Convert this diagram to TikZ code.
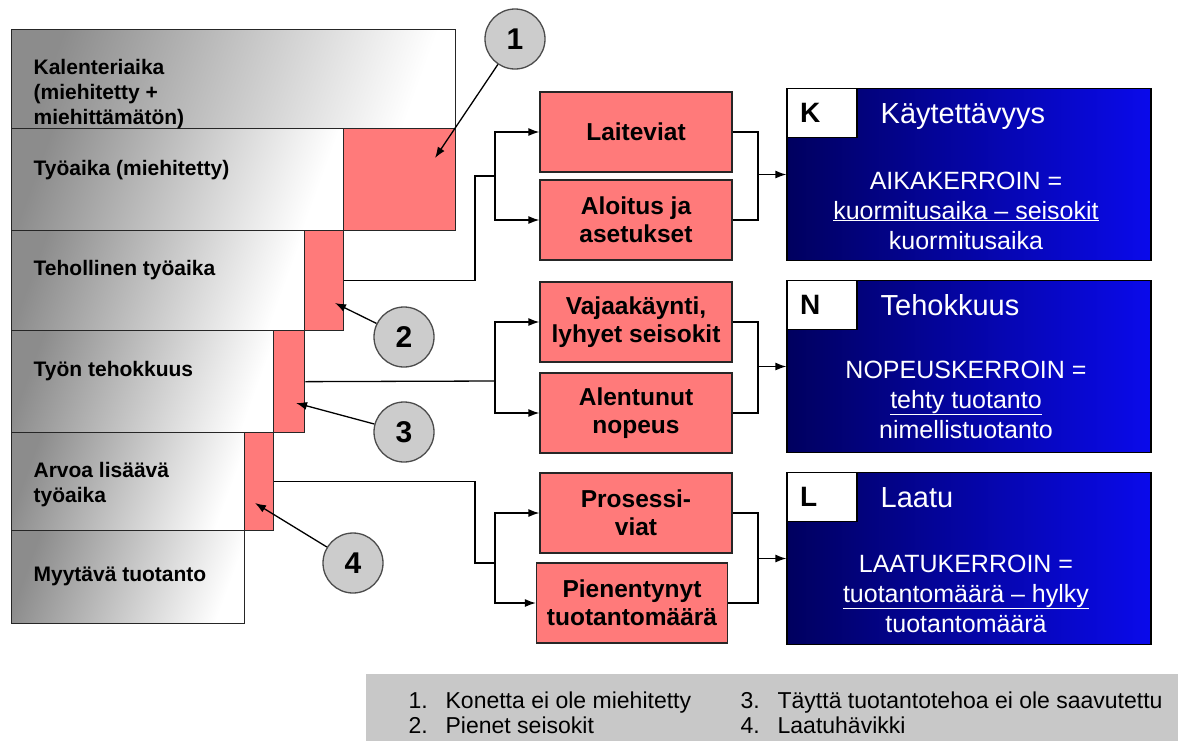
\documentclass[tikz,border=0pt]{standalone}
\usepackage{fontspec}
\setmainfont{Liberation Sans}
\usepackage{xcolor}
\usepackage{tikz}
\usetikzlibrary{arrows.meta,positioning}

\definecolor{lossred}{RGB}{255,122,122}
\definecolor{factordark}{RGB}{0,0,95}
\definecolor{factorblue}{RGB}{10,10,235}
\definecolor{legendgray}{RGB}{200,200,200}

\newcommand{\barfont}{\fontsize{21}{25}\selectfont\bfseries}
\newcommand{\causefont}{\fontsize{24.5}{28}\selectfont\bfseries}
\newcommand{\titlefont}{\fontsize{29}{32}\selectfont}
\newcommand{\tagfont}{\fontsize{28}{32}\selectfont\bfseries}
\newcommand{\formulafont}{\fontsize{25}{30}\selectfont}
\newcommand{\numfont}{\fontsize{30}{32}\selectfont\bfseries}
\newcommand{\legendfont}{\fontsize{23}{25}\selectfont}

\begin{document}
\begin{tikzpicture}[x=1pt, y=-1pt, line width=1.3pt,
  bar/.style={draw=black!85, left color=black!45, middle color=black!12, right color=white, shading angle=70, anchor=north west, inner sep=0pt},
  loss/.style={draw=black!85, fill=lossred, anchor=north west, inner sep=0pt},
  bartext/.style={font=\barfont, align=left, anchor=base west, inner sep=0pt},
  cause/.style={draw=black!85, fill=lossred, minimum width=192pt, minimum height=80pt, font=\causefont, align=center, inner sep=0pt},
  factor/.style={draw=black, left color=factordark, right color=factorblue, minimum width=364pt, minimum height=172pt, inner sep=0pt},
  tag/.style={draw=black, fill=white, minimum height=49pt, text width=44pt, inner xsep=13pt, inner ysep=0pt, align=left, anchor=north west, font=\tagfont},
  title/.style={font=\titlefont, text=white, anchor=base west, inner sep=0pt},
  formula/.style={font=\formulafont, text=white, align=center, anchor=base, inner sep=0pt},
  num/.style={circle, draw=black!70, fill=black!20, minimum size=60pt, font=\numfont, inner sep=0pt},
  legtext/.style={font=\legendfont, anchor=base west, inner sep=0pt},
  link/.style={line width=1.3pt},
  pointer/.style={line width=1.3pt, -{Latex[length=11pt,width=8pt]}},
]
\useasboundingbox (0,0) rectangle (1183,740);

% time bars
\node[bar, minimum width=444pt, minimum height=99pt] (cal) at (11,29) {};
\node[bar, minimum width=332pt, minimum height=102pt] (work) at (11,128) {};
\node[bar, minimum width=293pt, minimum height=100pt] (eff) at (11,230) {};
\node[bar, minimum width=262pt, minimum height=102pt] (perf) at (11,330) {};
\node[bar, minimum width=233pt, minimum height=98pt] (value) at (11,432) {};
\node[bar, minimum width=233pt, minimum height=93pt] (sale) at (11,530) {};

\node[loss, minimum width=112pt, minimum height=102pt] (loss1) at (343,128) {};
\node[loss, minimum width=39pt, minimum height=100pt] (loss2) at (304,230) {};
\node[loss, minimum width=31pt, minimum height=102pt] (loss3) at (273,330) {};
\node[loss, minimum width=29pt, minimum height=98pt] (loss4) at (244,432) {};

\node[bartext] (caltext) at (33,124) {Kalenteriaika\\(miehitetty +\\miehittämätön)};
\node[bartext] (worktext) at (33,175) {Työaika (miehitetty)};
\node[bartext] (efftext) at (33,275) {Tehollinen työaika};
\node[bartext] (perftext) at (33,376) {Työn tehokkuus};
\node[bartext] (valuetext) at (33,502) {Arvoa lisäävä\\työaika};
\node[bartext] (saletext) at (33,581) {Myytävä tuotanto};

% numbered markers
\node[num] (n1) at (515,39) {1};
\node[num] (n2) at (404,337) {2};
\node[num] (n3) at (404,432) {3};
\node[num] (n4) at (353,563) {4};
\coordinate (p1) at (435,158);
\coordinate (p2) at (335,303);
\coordinate (p3) at (296,403);
\coordinate (p4) at (255,503);
\draw[pointer] (n1) -- (p1);
\draw[pointer] (n2) -- (p2);
\draw[pointer] (n3) -- (p3);
\draw[pointer] (n4) -- (p4);

% causes
\node[cause] (c1) at (636,132) {Laiteviat};
\node[cause] (c2) at (636,220) {Aloitus ja\\asetukset};
\node[cause] (c3) at (636,322) {Vajaakäynti,\\lyhyet seisokit};
\node[cause] (c4) at (636,413) {Alentunut\\nopeus};
\node[cause] (c5) at (636,513) {Prosessi-\\viat};
\node[cause, minimum width=191pt] (c6) at (632,603) {Pienentynyt\\tuotantomäärä};

% factors
\node[factor] (K) at (969,174.5) {};
\node[factor] (N) at (969,366.5) {};
\node[factor] (L) at (969,558.5) {};
\node[tag] (Ktag) at (K.north west) {K};
\node[tag] (Ntag) at (N.north west) {N};
\node[tag] (Ltag) at (L.north west) {L};
\node[title] (Ktitle) at (880,123) {Käytettävyys};
\node[title] (Ntitle) at (880,315) {Tehokkuus};
\node[title] (Ltitle) at (880,507) {Laatu};
\node[formula] (Kform) at (966,249) {AIKAKERROIN =\\\underline{kuormitusaika – seisokit}\\kuormitusaika};
\node[formula] (Nform) at (966,438) {NOPEUSKERROIN =\\\underline{tehty tuotanto}\\nimellistuotanto};
\node[formula] (Lform) at (966,632) {LAATUKERROIN =\\\underline{tuotantomäärä – hylky}\\tuotantomäärä};

% wiring
\coordinate (s1) at (495,176);
\coordinate (s2) at (495,381);
\coordinate (s3) at (495,563);
\draw[link] (loss2.east) -| (475,176) -- (s1);
\draw[pointer] (s1) |- (c1.west);
\draw[pointer] (s1) |- (c2.west);
\draw[link] (loss3.east) -- (s2);
\draw[pointer] (s2) |- (c3.west);
\draw[pointer] (s2) |- (c4.west);
\draw[link] (loss4.east) -| (475,563) -- (s3);
\draw[pointer] (s3) |- (c5.west);
\draw[pointer] (s3) |- (c6.west);

\coordinate (m1) at (758,174.5);
\coordinate (m2) at (758,366.5);
\coordinate (m3) at (758,558.5);
\draw[link] (c1.east) -| (m1) |- (c2.east);
\draw[pointer] (m1) -- (K.west);
\draw[link] (c3.east) -| (m2) |- (c4.east);
\draw[pointer] (m2) -- (N.west);
\draw[link] (c5.east) -| (m3) |- (c6.east);
\draw[pointer] (m3) -- (L.west);

% legend
\node[fill=legendgray, minimum width=812pt, minimum height=67pt, anchor=north west, inner sep=0pt] (legend) at (365,673) {};
\node[legtext] (leg1) at (408,708) {\makebox[37pt][l]{1.}Konetta ei ole miehitetty};
\node[legtext] (leg2) at (408,733) {\makebox[37pt][l]{2.}Pienet seisokit};
\node[legtext] (leg3) at (740,708) {\makebox[37pt][l]{3.}Täyttä tuotantotehoa ei ole saavutettu};
\node[legtext] (leg4) at (740,733) {\makebox[37pt][l]{4.}Laatuhävikki};
\end{tikzpicture}
\end{document}
